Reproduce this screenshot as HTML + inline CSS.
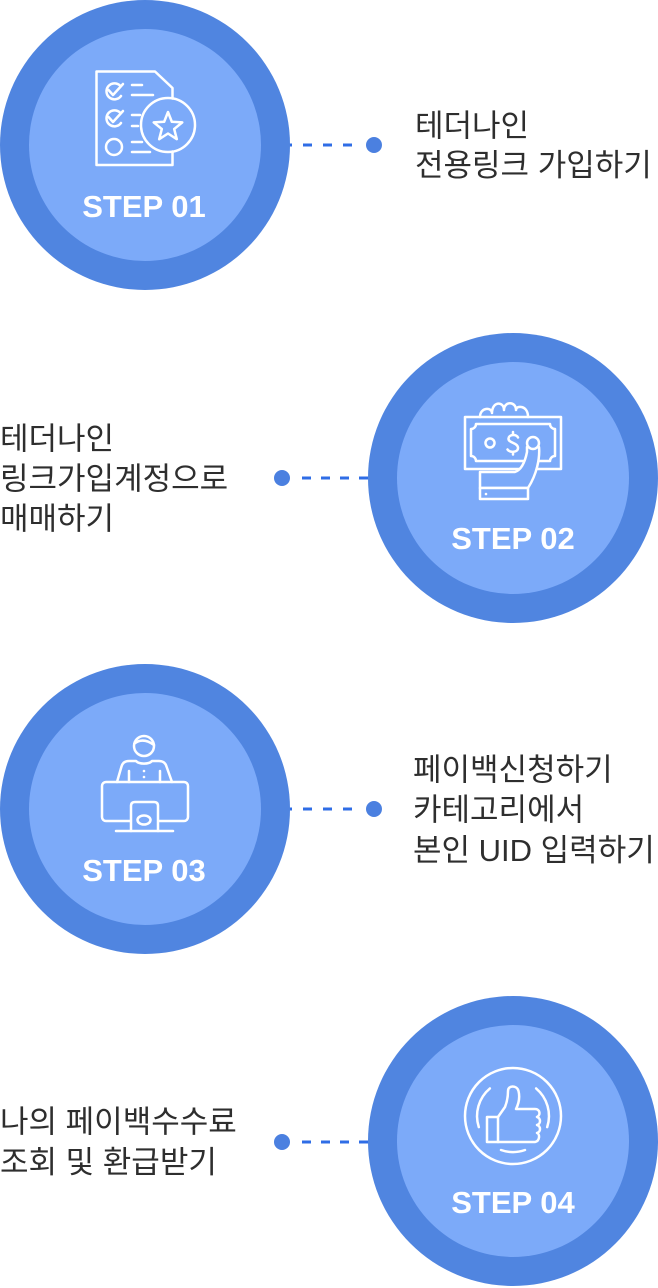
<!DOCTYPE html>
<html>
<head>
<meta charset="utf-8">
<style>
  html, body { margin: 0; padding: 0; background: #ffffff; }
  body { width: 658px; height: 1288px; overflow: hidden; }
  svg { display: block; }
  .t { font-family: "Liberation Sans", "Noto Sans CJK KR", sans-serif; font-size: 31px; fill: #2e2e2e; }
  .s { font-family: "Liberation Sans", "Noto Sans CJK KR", sans-serif; font-size: 31px; font-weight: 700; fill: #ffffff; }
  .ic { fill: none; stroke: #ffffff; stroke-width: 2.5; stroke-linecap: round; stroke-linejoin: round; }
  .icf { fill: #7caaf9; stroke: #ffffff; stroke-width: 2.5; stroke-linecap: round; stroke-linejoin: round; }
  .dash { stroke: #2f6de6; stroke-width: 3; }
</style>
</head>
<body>
<svg width="658" height="1288" viewBox="0 0 658 1288" xmlns="http://www.w3.org/2000/svg">
  <!-- ===== dashed connectors (behind circles) ===== -->
  <line class="dash" x1="283" y1="145" x2="352" y2="145" stroke-dasharray="9 11"/>
  <line class="dash" x1="302" y1="478" x2="372" y2="478" stroke-dasharray="9 10"/>
  <line class="dash" x1="283" y1="809" x2="352" y2="809" stroke-dasharray="9 11"/>
  <line class="dash" x1="302" y1="1142" x2="372" y2="1142" stroke-dasharray="9 10"/>

  <circle cx="374" cy="145" r="8" fill="#4b80e0"/>
  <circle cx="282" cy="478" r="8" fill="#4b80e0"/>
  <circle cx="374" cy="809" r="8" fill="#4b80e0"/>
  <circle cx="282" cy="1142" r="8" fill="#4b80e0"/>

  <!-- ===== circles ===== -->
  <circle cx="145" cy="145" r="145" fill="#5085e0"/>
  <circle cx="145" cy="145" r="116" fill="#7caaf9"/>

  <circle cx="513" cy="478" r="145" fill="#5085e0"/>
  <circle cx="513" cy="478" r="116" fill="#7caaf9"/>

  <circle cx="145" cy="809" r="145" fill="#5085e0"/>
  <circle cx="145" cy="809" r="116" fill="#7caaf9"/>

  <circle cx="513" cy="1141" r="145" fill="#5085e0"/>
  <circle cx="513" cy="1141" r="116" fill="#7caaf9"/>

  <!-- ===== STEP labels ===== -->
  <text class="s" x="144" y="217" text-anchor="middle">STEP 01</text>
  <text class="s" x="513" y="549" text-anchor="middle">STEP 02</text>
  <text class="s" x="144" y="881" text-anchor="middle">STEP 03</text>
  <text class="s" x="513" y="1213" text-anchor="middle">STEP 04</text>

  <!-- ===== Icon 1: checklist document with star ===== -->
  <path class="ic" d="M172.5 98.5 V88 L155 71.5 H96.5 V165 H172.5 V151.5"/>
  <circle class="ic" cx="168" cy="125" r="27"/>
  <polygon class="ic" points="168,112 171.82,121.74 182.27,122.36 174.18,129.01 176.82,139.14 168,133.5 159.18,139.14 161.82,129.01 153.73,122.36 164.18,121.74"/>
  <path class="ic" d="M120 85.5 A8 8 0 1 0 121 96"/>
  <path class="ic" d="M108.5 90 L113 95 L123 84"/>
  <path class="ic" d="M120 112.5 A8 8 0 1 0 121 123"/>
  <path class="ic" d="M108.5 117 L113 122 L123 111"/>
  <circle class="ic" cx="114" cy="147" r="8"/>
  <path class="ic" d="M132 85 H142 M132 95 H153 M132 115 H140 M132 126 H138 M132 142 H142 M132 152 H150"/>

  <!-- ===== Icon 2: hand with money ===== -->
  <path class="icf" d="M480 417 C480 407 492 407 492 413 C492 401 504 401 504 410 C504 401 516 401 516 410 C516 405 528 405 528 417"/>
  <rect class="ic" x="465" y="417" width="96" height="52"/>
  <path class="ic" d="M476 424 H550 A5 5 0 0 0 555 429 V456 A5 5 0 0 0 550 461 H476 A5 5 0 0 0 471 456 V429 A5 5 0 0 0 476 424 Z"/>
  <circle class="ic" cx="490" cy="443" r="4.5"/>
  <path class="ic" d="M518 437.5 C516.5 434 509 434 508.5 438.5 C508 443 518 442.5 518 448 C518 452.5 510 453 507.5 449.5 M513 432 V434.5 M513 452 V454.5"/>
  <path class="icf" d="M480 488 V472 H515 C521 470 525 462 527 452 L527 447 L539 447 C540 458 537 474 528 488 Z"/>
  <circle class="icf" cx="533" cy="443" r="6"/>
  <rect class="icf" x="480" y="488" width="48" height="11"/>
  <circle cx="486" cy="494" r="1.3" fill="#ffffff"/>

  <!-- ===== Icon 3: person at computer ===== -->
  <circle class="ic" cx="144" cy="746" r="10"/>
  <path class="ic" d="M134.5 743.5 Q143 737 154 745"/>
  <path class="ic" d="M117 782 L121.5 766.5 C122.5 763 125 761 129 761 L136 761 C139 764.5 149 764.5 152 761 L159 761 C163 761 165.5 763 166.5 766.5 L172 782"/>
  <path class="ic" d="M129 771 V782 M160 771 V782"/>
  <circle cx="144" cy="771" r="1.3" fill="#ffffff"/>
  <circle cx="144" cy="777" r="1.3" fill="#ffffff"/>
  <rect class="ic" x="102" y="782" width="86" height="39" rx="4"/>
  <path class="icf" d="M131 831 V806 Q131 802 135 802 H154 Q158 802 158 806 V831"/>
  <ellipse class="ic" cx="144" cy="820" rx="6.5" ry="4.5"/>
  <path class="ic" d="M116 831 H173"/>

  <!-- ===== Icon 4: thumbs up in circle ===== -->
  <circle class="ic" cx="513" cy="1116" r="48"/>
  <path class="ic" d="M478.8 1127.1 A36 36 0 0 1 489.9 1088.4"/>
  <path class="ic" d="M536.1 1088.4 A36 36 0 0 1 547.2 1127.1"/>
  <path class="ic" d="M501 1150 A36 36 0 0 0 525 1150"/>
  <rect class="ic" x="487" y="1117" width="11" height="25"/>
  <path class="ic" d="M498 1117 L505 1107 C507 1102 508 1097 508 1091 C508 1085 517 1085 518.5 1091 C520 1097 519 1103 516 1109 L535 1109 C540 1109 541 1115 537 1117 C541 1118 541 1124 537 1125 C541 1126 541 1132 537 1133 C540 1134 540 1141 535 1142 L498 1142"/>

  <!-- ===== Texts ===== -->
  <text class="t" x="415" y="136.5">테더나인</text>
  <text class="t" x="415" y="176">전용링크 가입하기</text>

  <text class="t" x="0" y="449.5">테더나인</text>
  <text class="t" x="0" y="489.5">링크가입계정으로</text>
  <text class="t" x="0" y="529.5">매매하기</text>

  <text class="t" x="413" y="780.5">페이백신청하기</text>
  <text class="t" x="413" y="820.5">카테고리에서</text>
  <text class="t" x="413" y="861">본인 UID 입력하기</text>

  <text class="t" x="0" y="1132.5">나의 페이백수수료</text>
  <text class="t" x="0" y="1173">조회 및 환급받기</text>
</svg>
</body>
</html>
